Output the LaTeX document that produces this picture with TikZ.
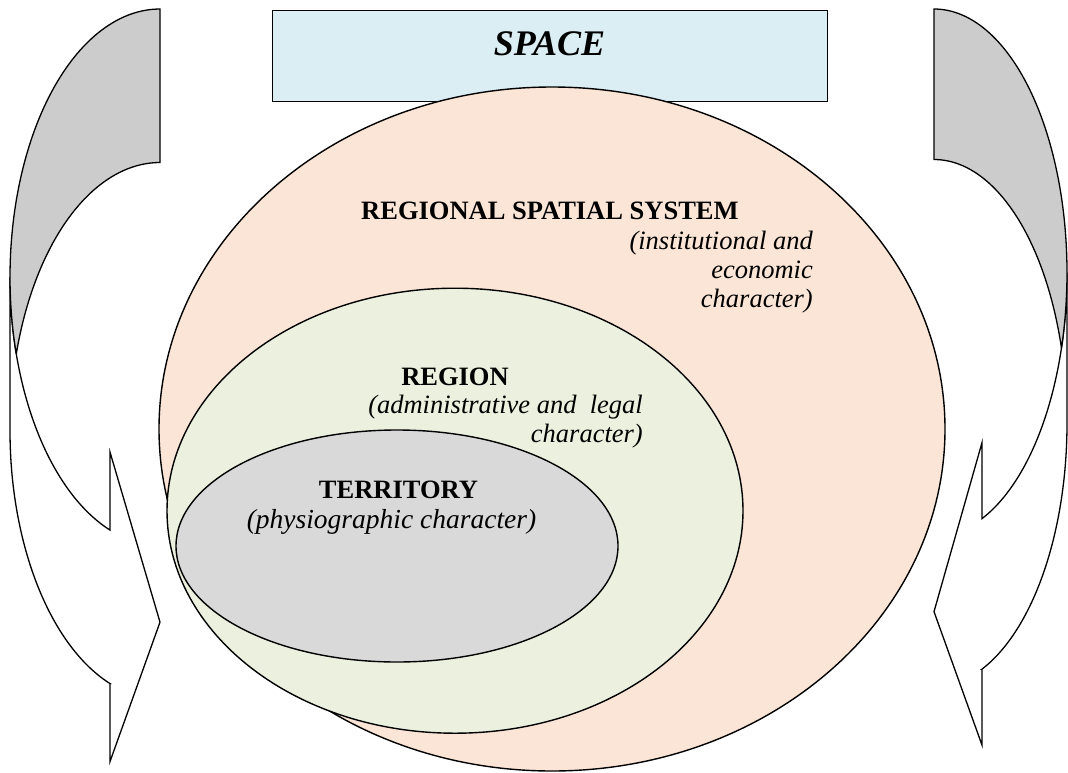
\documentclass[tikz,border=0pt]{standalone}
\usepackage{fontspec}
\setmainfont{Liberation Serif}
\usetikzlibrary{shapes.geometric}
\definecolor{rssorange}{HTML}{FBE5D6}
\definecolor{regiongreen}{HTML}{EBF1DE}
\definecolor{terrgray}{HTML}{D9D9D9}
\definecolor{spaceblue}{HTML}{DBEEF4}
\definecolor{backgray}{HTML}{CCCCCC}
% curved arrow: #1 flat x (tip x), #2 direction (+1 left arrow, -1 right arrow),
% #3 width, #4 head length, #5 top, #6 hR, #7 band thickness, #8 barb offset
\newcommand{\curvedarrowshape}[8]{%
  \pgfmathsetmacro{\cya}{#5+#6}%
  \pgfmathsetmacro{\cyb}{#5+#6+#7}%
  \pgfmathsetmacro{\angE}{acos(-(#4)/(#3))}%
  \pgfmathsetmacro{\dyv}{(#6)*sin(\angE)}%
  \pgfmathsetmacro{\xh}{#1-(#2)*(#4)}%
  \pgfmathsetmacro{\yfive}{\cya+\dyv}%
  \pgfmathsetmacro{\yfour}{\yfive-(#8)}%
  \pgfmathsetmacro{\yseven}{\cyb+\dyv}%
  \pgfmathsetmacro{\yeight}{\yseven+(#8)}%
  \pgfmathsetmacro{\ysix}{#5+2*(#6)+(#7)/2}%
  \pgfmathsetmacro{\kang}{asin((#7)/2/(#6))}%
  \pgfmathsetmacro{\kA}{180-\kang}%
  \pgfmathsetmacro{\kB}{180+\kang}%
  \filldraw[arrowline, fill=white]
    plot[domain=180:\angE, samples=80, variable=\t] ({#1+(#2)*(#3)*cos(\t)},{\cya+(#6)*sin(\t)})
    -- (\xh,\yfour) -- (#1,\ysix) -- (\xh,\yeight) -- (\xh,\yseven)
    -- plot[domain=\angE:180, samples=80, variable=\t] ({#1+(#2)*(#3)*cos(\t)},{\cyb+(#6)*sin(\t)})
    -- cycle;
  \filldraw[arrowline, fill=backgray]
    plot[domain=270:\kA, samples=80, variable=\t] ({#1+(#2)*(#3)*cos(\t)},{\cya+(#6)*sin(\t)})
    -- plot[domain=\kB:270, samples=80, variable=\t] ({#1+(#2)*(#3)*cos(\t)},{\cyb+(#6)*sin(\t)})
    -- cycle;
}
\begin{document}
\begin{tikzpicture}[x=1pt,y=-1pt,
  arrowline/.style={draw=black, line width=1.3pt, line join=miter},
  regionellipse/.style={ellipse, draw=black, line width=1.4pt, inner sep=0pt, outer sep=0pt},
  boldlabel/.style={font=\fontsize{26.5}{30}\selectfont\bfseries, inner sep=0pt},
  itlabel/.style={font=\fontsize{26.5}{30}\selectfont\itshape, inner sep=0pt},
  spacelabel/.style={font=\fontsize{36}{40}\selectfont\bfseries\itshape, inner sep=0pt}]
\useasboundingbox (0,0) rectangle (1068,772);
\clip (0,0) rectangle (1068,772);

% SPACE box
\node[draw=black, fill=spaceblue, line width=1.3pt, minimum width=555pt, minimum height=91.5pt,
      inner sep=0pt, anchor=north west] (spacebox) at (272,9.5) {};

% nested ellipses
\node[regionellipse, fill=rssorange, minimum width=786pt, minimum height=684pt] (rss) at (552,429) {};
\node[regionellipse, fill=regiongreen, minimum width=576pt, minimum height=445pt] (region) at (455,510.7) {};
\node[regionellipse, fill=terrgray, minimum width=442pt, minimum height=232pt] (territory) at (397,546) {};

% curved arrows
\curvedarrowshape{160}{1}{150}{50}{9}{268.2}{153.5}{78}
\curvedarrowshape{934}{-1}{133}{48}{9}{263.7}{150.5}{76}

% texts
\node[spacelabel, anchor=base] (spacetxt) at (549.5,55) {SPACE};
\node[boldlabel, anchor=base west] (rsstitle) at (361,219) {REGIONAL SPATIAL SYSTEM};
\node[itlabel, anchor=base east] (rssline1) at (813,249) {(institutional and};
\node[itlabel, anchor=base east] (rssline2) at (813,278) {economic};
\node[itlabel, anchor=base east] (rssline3) at (813,307) {character)};
\node[boldlabel, anchor=base] (regiontitle) at (455,385) {REGION};
\node[itlabel, anchor=base east] (regionline1) at (643,413) {(administrative and \ legal};
\node[itlabel, anchor=base east] (regionline2) at (643,442) {character)};
\node[boldlabel, anchor=base] (terrtitle) at (398.5,498) {TERRITORY};
\node[itlabel, anchor=base, font=\fontsize{27.5}{30}\selectfont\itshape] (terrline1) at (391.5,528) {(physiographic character)};
\end{tikzpicture}
\end{document}
